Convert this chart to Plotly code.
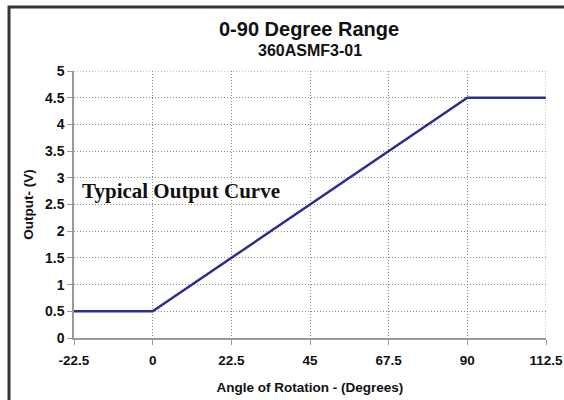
import plotly.graph_objects as go

angles = [-22.5, 0, 90, 112.5]
output_v = [0.5, 0.5, 4.5, 4.5]
x_ticks = [-22.5, 0, 22.5, 45, 67.5, 90, 112.5]
x_tick_labels = ["-22.5", "0", "22.5", "45", "67.5", "90", "112.5"]
y_ticks = [0, 0.5, 1, 1.5, 2, 2.5, 3, 3.5, 4, 4.5, 5]
y_tick_labels = ["0", "0.5", "1", "1.5", "2", "2.5", "3", "3.5", "4", "4.5", "5"]

L, R, T, B = 74, 18, 71, 62
W, H = 564, 400
pw, ph = W - L - R, H - T - B

def px(x):
    return (x - L) / pw

def py(y):
    return (H - B - y) / ph

fig = go.Figure()
fig.add_trace(go.Scatter(x=angles, y=output_v, mode="lines",
                         line=dict(color="#2e2e8f", width=2.5),
                         showlegend=False, hoverinfo="skip"))

font = "Liberation Sans, Arial, sans-serif"
grid = "#8c8c8c"
fig.update_layout(
    width=W, height=H,
    margin=dict(l=L, r=R, t=T, b=B),
    paper_bgcolor="white", plot_bgcolor="white",
    font=dict(family=font, color="#111111"),
    xaxis=dict(range=[-22.5, 112.5], tickvals=x_ticks,
               ticktext=["<b>%s</b>" % t for t in x_tick_labels],
               showgrid=True, gridcolor=grid, griddash="1px,2px", gridwidth=1,
               showline=True, linecolor="#9a9a9a", linewidth=1.5,
               ticks="outside", ticklen=5, tickcolor="#9a9a9a",
               ticklabelstandoff=4, ticklabeloverflow="allow",
               tickfont=dict(size=13.5, family=font, color="#111111"),
               zeroline=False, automargin=False,
               title=dict(text="<b>Angle of Rotation - (Degrees)</b>",
                          font=dict(size=13.5, family=font), standoff=16)),
    yaxis=dict(range=[0, 5], tickvals=y_ticks,
               ticktext=["<b>%s</b>" % t for t in y_tick_labels],
               showgrid=True, gridcolor=grid, griddash="1px,2px", gridwidth=1,
               showline=True, linecolor="#9a9a9a", linewidth=1.5,
               ticks="outside", ticklen=5, tickcolor="#9a9a9a",
               ticklabeloverflow="allow",
               tickfont=dict(size=14, family=font, color="#111111"),
               zeroline=False, automargin=False,
               title=dict(text="<b>Output- (V)</b>",
                          font=dict(size=13.5, family=font), standoff=8)),
)

# vertical dotted grid line at right edge
fig.add_shape(type="line", xref="x", yref="paper", x0=112.5, x1=112.5, y0=0, y1=1,
              line=dict(color=grid, width=1, dash="1px,2px"))
# top grid line
fig.add_shape(type="line", xref="paper", yref="y", x0=0, x1=1, y0=5, y1=5,
              line=dict(color=grid, width=1, dash="1px,2px"))

# outer frame
fig.add_shape(type="rect", xref="paper", yref="paper",
              x0=px(9), x1=px(575), y0=py(410), y1=py(7),
              line=dict(color="#333333", width=3), fillcolor="rgba(0,0,0,0)",
              layer="above")

fig.add_annotation(xref="paper", yref="paper", x=px(309), y=py(29), xanchor="center",
                   yanchor="middle", showarrow=False,
                   text="<b>0-90 Degree Range</b>",
                   font=dict(size=20, family=font, color="#111111"))
fig.add_annotation(xref="paper", yref="paper", x=px(310), y=py(50), xanchor="center",
                   yanchor="middle", showarrow=False,
                   text="<b>360ASMF3-01</b>",
                   font=dict(size=16, family=font, color="#111111"))
fig.add_annotation(xref="paper", yref="paper", x=px(80), y=py(191), xanchor="left",
                   yanchor="middle", showarrow=False,
                   text="<b>Typical Output Curve</b>",
                   font=dict(size=21, family="Liberation Serif, Times New Roman, serif",
                             color="#111111"))

fig.write_html("out.html", config={"displayModeBar": False},
               post_script="document.body.style.margin='0';document.body.style.padding='0';")
